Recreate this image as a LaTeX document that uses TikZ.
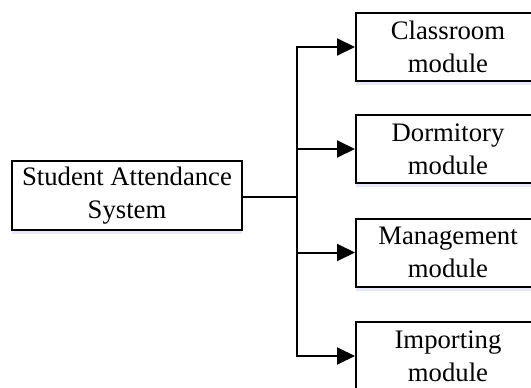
\documentclass[tikz,border=0pt]{standalone}
\usepackage{fontspec}
\setmainfont{Liberation Serif}
\usetikzlibrary{arrows.meta,shadows,positioning}
\tikzset{
  box/.style={draw=black, line width=2pt, fill=white, align=center,
              minimum height=68pt, inner sep=0pt,
              font=\fontsize{26.7}{33}\selectfont,
              drop shadow={shadow xshift=0pt, shadow yshift=-4pt,
                           fill=cyan!20!blue!12, opacity=0.7}},
  modbox/.style={box, minimum width=184pt},
  link/.style={line width=2pt, -{Triangle[length=18pt,width=17pt]}}
}

\begin{document}
\begin{tikzpicture}[x=1pt,y=-1pt]
\useasboundingbox (0,0) rectangle (531,388);
\clip (0,0) rectangle (531,388);
% system and its modules
\node[box, minimum width=230pt, minimum height=69pt] (sys) at (127,195.5)
  {Student Attendance\\System};
\node[modbox] (cls)  at (448,47)    {Classroom\\module};
\node[modbox] (dorm) at (448,149)   {Dormitory\\module};
\node[modbox] (mgmt) at (448,252.5) {Management\\module};
\node[modbox] (imp)  at (448,356)   {Importing\\module};
% tree lines
\coordinate (bus) at (297,197);
\draw[line width=2pt] (sys.east |- bus) -- (bus);
\draw[line width=2pt, line cap=rect] (bus |- cls) -- (bus |- imp);
\foreach \m in {cls,dorm,mgmt,imp}
  \draw[link] (bus |- \m) -- (\m.west);
\end{tikzpicture}
\end{document}
